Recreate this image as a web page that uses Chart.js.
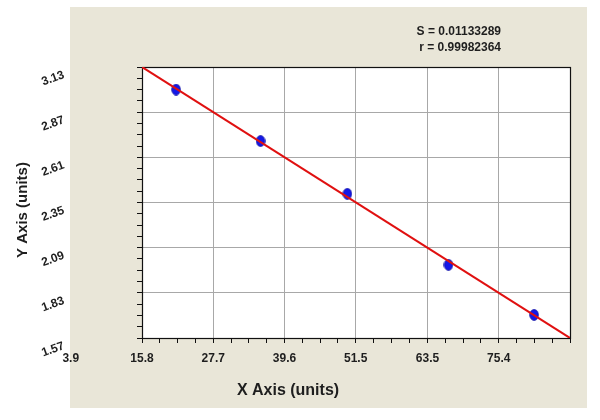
<!DOCTYPE html>
<html>
<head>
<meta charset="utf-8">
<script src="https://cdn.jsdelivr.net/npm/chart.js@4"></script>
<style>
  body{margin:0;background:#fff;}
  canvas{display:block;}
</style>
</head>
<body>
<canvas id="myChart" width="600" height="420"></canvas>
<script>
//----------data-----------------------------------
const xValues=[21.5, 35.6, 50.1, 67.0, 81.3];
const yValues=[3.000, 2.704, 2.400, 1.991, 1.703];
const fitX=[15.8, 87.3];
const fitY=[3.13, 1.57];
const xTickValues=[3.9, 15.8, 27.7, 39.6, 51.5, 63.5, 75.4];
const xTickLabels=['3.9','15.8','27.7','39.6','51.5','63.5','75.4'];
const yTickValues=[1.57, 1.83, 2.09, 2.35, 2.61, 2.87, 3.13];
const yTickLabels=['1.57','1.83','2.09','2.35','2.61','2.87','3.13'];
const statLines=['S = 0.01133289','r = 0.99982364'];
const xTitle='X Axis (units)';
const yTitle='Y Axis (units)';

const xMin=15.8, xMax=87.3, yMin=1.57, yMax=3.13;
const font='"Liberation Sans", Arial, sans-serif';

// blue oval marker
const dot=document.createElement('canvas');
dot.width=10; dot.height=12;
const dctx=dot.getContext('2d');
dctx.fillStyle='#1418e8';
dctx.beginPath();
dctx.ellipse(5,6,4.3,5.4,0,0,Math.PI*2);
dctx.fill();
dctx.strokeStyle='#0a0aa0';
dctx.lineWidth=0.8;
dctx.stroke();

// major ticks plus 4 subdivisions between them
function withMinors(majors, lo, hi){
  let list=majors.filter(v=>v>=lo-1e-9 && v<hi-1e-9);
  list=list.concat(hi);
  const out=[];
  for(let i=0;i<list.length-1;i++){
    const a=list[i], b=list[i+1];
    for(let k=0;k<4;k++) out.push(a+(b-a)*k/4);
  }
  out.push(hi);
  return out;
}
function findMajor(values, v){
  return values.findIndex(m=>Math.abs(m-v)<1e-6);
}

//----------background, frame and texts--------------
const decor={
  id:'decor',
  beforeDraw(chart){
    const c=chart.ctx, a=chart.chartArea;
    c.save();
    c.fillStyle='#fff';
    c.fillRect(0,0,chart.width,chart.height);
    c.fillStyle='#e9e6d8';
    c.fillRect(70,7,517,401);
    c.fillStyle='#fff';
    c.fillRect(a.left,a.top,a.right-a.left,a.bottom-a.top);
    c.restore();
  },
  beforeDatasetsDraw(chart){
    const c=chart.ctx, a=chart.chartArea;
    c.save();
    c.strokeStyle='#111';
    c.lineWidth=1.2;
    c.strokeRect(Math.round(a.left)+0.5,Math.round(a.top)+0.5,Math.round(a.right-a.left),Math.round(a.bottom-a.top));
    c.restore();
  },
  afterDraw(chart){
    const c=chart.ctx;
    c.save();
    c.fillStyle='#1e1e1e';
    c.textBaseline='middle';
    c.font='bold 12px '+font;
    c.textAlign='right';
    statLines.forEach((t,i)=>c.fillText(t,501,32+i*16));
    c.textAlign='center';
    c.font='bold 16px '+font;
    c.fillText(xTitle,288,391);
    c.translate(23,210);
    c.rotate(-Math.PI/2);
    c.font='bold 15px '+font;
    c.fillText(yTitle,0,0);
    c.restore();
  }
};

const ctx=document.getElementById('myChart');
const chart=new Chart(ctx,{
  type:'scatter',
  data:{
    datasets:[
      {
        data:fitX.map((x,i)=>({x:x,y:fitY[i]})),
        showLine:true,
        borderColor:'#e01010',
        borderWidth:2,
        pointRadius:0
      },
      {
        data:xValues.map((x,i)=>({x:x,y:yValues[i]})),
        pointStyle:dot,
        pointRadius:5
      }
    ]
  },
  options:{
    responsive:false,
    animation:false,
    layout:{padding:{left:0,top:67,right:30,bottom:0}},
    plugins:{legend:{display:false},tooltip:{enabled:false}},
    scales:{
      x:{
        type:'linear',
        min:xMin,max:xMax,
        afterFit:s=>{s.height=82;},
        afterBuildTicks:s=>{
          s.ticks=[{value:xTickValues[0]}].concat(withMinors(xTickValues,xMin,xMax).map(v=>({value:v})));
        },
        grid:{
          color:c=>{
            const v=c.tick?c.tick.value:null;
            if(v===null||v<=xMin+1e-6||v>=xMax-1e-6) return 'transparent';
            return findMajor(xTickValues,v)>=0?'#a8a8a8':'transparent';
          },
          tickColor:c=>(c.tick&&c.tick.value<xMin-1e-6)?'transparent':'#111',
          tickLength:5
        },
        border:{display:false},
        ticks:{
          autoSkip:false,
          maxRotation:0,minRotation:0,
          padding:8,
          color:'#1e1e1e',
          font:{family:font,size:12,weight:'bold'},
          callback:v=>{const i=findMajor(xTickValues,v);return i>=0?xTickLabels[i]:'';}
        }
      },
      y:{
        type:'linear',
        min:yMin,max:yMax,
        // labels sit far left; keep that gap out of the vertical padding
        afterFit:s=>{s.width=142;s.paddingTop=0;s.paddingBottom=0;},
        afterBuildTicks:s=>{
          s.ticks=withMinors(yTickValues,yMin,yMax).map(v=>({value:v}));
        },
        grid:{
          color:c=>{
            const v=c.tick?c.tick.value:null;
            if(v===null||v<=yMin+1e-6||v>=yMax-1e-6) return 'transparent';
            return findMajor(yTickValues,v)>=0?'#a8a8a8':'transparent';
          },
          tickColor:'#111',
          tickLength:5
        },
        border:{display:false},
        ticks:{
          autoSkip:false,
          minRotation:20,maxRotation:20,
          padding:73,
          labelOffset:7.5,
          color:'#1e1e1e',
          font:{family:font,size:12,weight:'bold'},
          callback:v=>{const i=findMajor(yTickValues,v);return i>=0?yTickLabels[i]:'';}
        }
      }
    }
  },
  plugins:[decor]
});
</script>
</body>
</html>
